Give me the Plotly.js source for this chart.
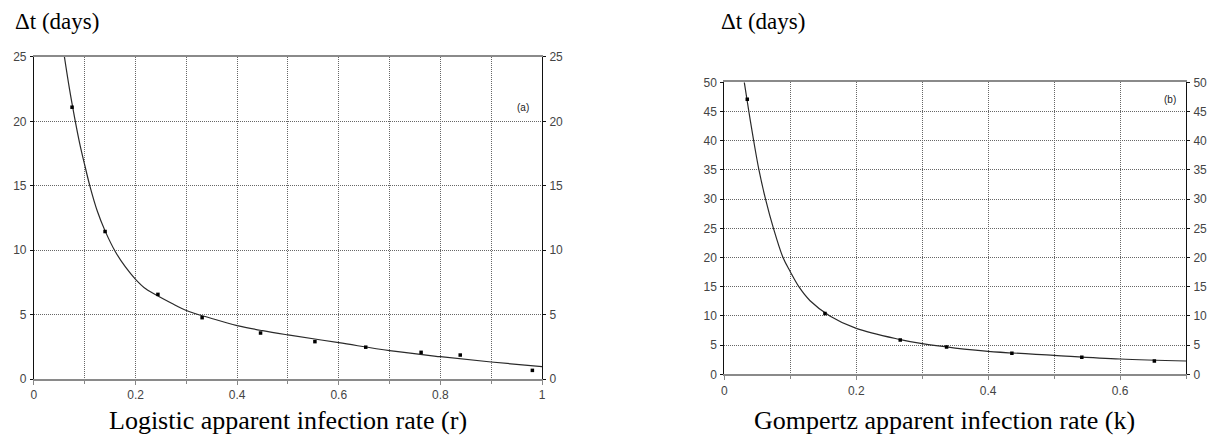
<!DOCTYPE html>
<html>
<head>
<meta charset="utf-8">
<script src="https://cdn.plot.ly/plotly-3.0.1.min.js"></script>
<style>
html,body{margin:0;padding:0;background:#fff;}
#chart{width:1208px;height:438px;}
</style>
</head>
<body>
<div id="chart"></div>
<script>
// Panel (a): logistic apparent infection rate r vs delta t
const logisticObsR  = [0.075, 0.140, 0.244, 0.331, 0.446, 0.553, 0.653, 0.762, 0.839, 0.981];
const logisticObsDt = [21.1, 11.45, 6.57, 4.76, 3.57, 2.90, 2.47, 2.07, 1.86, 0.67];
const logisticFitR  = [0.060, 0.070, 0.080, 0.090, 0.100, 0.110, 0.125, 0.140, 0.160, 0.180, 0.200, 0.220, 0.245, 0.270, 0.300, 0.350, 0.400, 0.450, 0.500, 0.600, 0.700, 0.800, 0.900, 1.000];
const logisticFitDt = [25.0, 22.5, 20.3, 18.3, 16.6, 15.0, 13.0, 11.5, 9.9, 8.7, 7.74, 7.0, 6.42, 5.9, 5.32, 4.7, 4.15, 3.75, 3.42, 2.82, 2.2, 1.73, 1.32, 0.96];

// Panel (b): Gompertz apparent infection rate k vs delta t
const gompertzObsK  = [0.0348, 0.1526, 0.2667, 0.337, 0.436, 0.542, 0.652];
const gompertzObsDt = [47.1, 10.4, 5.87, 4.67, 3.60, 2.91, 2.28];
const gompertzFitK  = [0.0303, 0.0372, 0.0445, 0.0525, 0.0625, 0.0745, 0.089, 0.100, 0.113, 0.130, 0.160, 0.200, 0.267, 0.300, 0.350, 0.400, 0.500, 0.600, 0.700];
const gompertzFitDt = [50.0, 45.0, 40.0, 35.0, 30.0, 25.0, 20.0, 17.57, 15.0, 12.6, 10.0, 7.87, 5.95, 5.24, 4.5, 3.94, 3.25, 2.62, 2.28];

const leftTicksY = [0, 5, 10, 15, 20, 25];
const rightTicksY = [0, 5, 10, 15, 20, 25, 30, 35, 40, 45, 50];

const lineColor = '#2a2a2a';
const gridColor = '#666';
const gridDash = '1px,1px';
const tickFont = {family: 'Liberation Sans, Arial, sans-serif', size: 12, color: '#444'};
const serif = 'Liberation Serif, Times New Roman, serif';

const traces = [
  {x: logisticFitR, y: logisticFitDt, xaxis: 'x', yaxis: 'y', mode: 'lines',
   line: {color: lineColor, width: 1.2, shape: 'spline', smoothing: 1}, hoverinfo: 'skip'},
  {x: logisticObsR, y: logisticObsDt, xaxis: 'x', yaxis: 'y', mode: 'markers',
   marker: {symbol: 'square', size: 3.5, color: '#000'}},
  {x: logisticObsR, y: logisticObsDt, xaxis: 'x', yaxis: 'y3', mode: 'markers',
   marker: {size: 1, opacity: 0}, hoverinfo: 'skip'},
  {x: gompertzFitK, y: gompertzFitDt, xaxis: 'x2', yaxis: 'y2', mode: 'lines',
   line: {color: lineColor, width: 1.2, shape: 'spline', smoothing: 1}, hoverinfo: 'skip'},
  {x: gompertzObsK, y: gompertzObsDt, xaxis: 'x2', yaxis: 'y2', mode: 'markers',
   marker: {symbol: 'square', size: 3.5, color: '#000'}},
  {x: gompertzObsK, y: gompertzObsDt, xaxis: 'x2', yaxis: 'y4', mode: 'markers',
   marker: {size: 1, opacity: 0}, hoverinfo: 'skip'}
];

function xAxis(domain, range, anchor) {
  return {
    domain: domain, range: range, anchor: anchor, dtick: 0.2, tick0: 0,
    showgrid: true, gridcolor: gridColor, griddash: gridDash, gridwidth: 1,
    minor: {dtick: 0.1, tick0: 0, showgrid: true, gridcolor: gridColor, griddash: gridDash, gridwidth: 1,
            ticks: 'outside', ticklen: 3, tickcolor: '#888'},
    showline: true, linecolor: '#8a8a8a', linewidth: 2, mirror: true,
    ticks: 'outside', ticklen: 4, tickcolor: '#888',
    zeroline: false, tickfont: tickFont, fixedrange: true
  };
}
function yAxis(domain, range, anchor, ticks, side, overlaying, grid) {
  const a = {
    domain: domain, range: range, anchor: anchor, tickvals: ticks, ticktext: ticks.map(String),
    showgrid: grid, gridcolor: gridColor, griddash: gridDash, gridwidth: 1,
    showline: true, linecolor: '#111', linewidth: 1,
    ticks: 'outside', ticklen: 3, tickcolor: '#111',
    zeroline: false, tickfont: tickFont, side: side, fixedrange: true, ticklabelstandoff: 1
  };
  if (overlaying) a.overlaying = overlaying;
  return a;
}

const layout = {
  width: 1208, height: 438,
  margin: {l: 0, r: 0, t: 0, b: 0},
  paper_bgcolor: '#fff', plot_bgcolor: '#fff',
  showlegend: false,
  font: {family: serif, color: '#000'},
  xaxis: xAxis([0.0281, 0.4487], [0, 1], 'y'),
  yaxis: yAxis([0.1347, 0.8699], [0, 25], 'x', leftTicksY, 'left', null, true),
  yaxis3: yAxis([0.1347, 0.8699], [0, 25], 'x', leftTicksY, 'right', 'y', false),
  xaxis2: xAxis([0.5996, 0.9818], [0, 0.7], 'y2'),
  yaxis2: yAxis([0.1454, 0.8121], [0, 50], 'x2', rightTicksY, 'left', null, true),
  yaxis4: yAxis([0.1454, 0.8121], [0, 50], 'x2', rightTicksY, 'right', 'y2', false),
  annotations: [
    {text: 'Δt (days)', xref: 'paper', yref: 'paper', x: 0.0108, y: 0.95, xanchor: 'left', yanchor: 'middle',
     showarrow: false, font: {family: serif, size: 23, color: '#000'}},
    {text: 'Δt (days)', xref: 'paper', yref: 'paper', x: 0.595, y: 0.95, xanchor: 'left', yanchor: 'middle',
     showarrow: false, font: {family: serif, size: 23, color: '#000'}},
    {text: 'Logistic apparent infection rate (r)', xref: 'paper', yref: 'paper', x: 0.238, y: 0.041,
     xanchor: 'center', yanchor: 'middle', showarrow: false,
     font: {family: serif, size: 26, color: '#000'}},
    {text: 'Gompertz apparent infection rate (k)', xref: 'paper', yref: 'paper', x: 0.782, y: 0.041,
     xanchor: 'center', yanchor: 'middle', showarrow: false,
     font: {family: serif, size: 26, color: '#000'}},
    {text: '(a)', xref: 'x', yref: 'y', x: 0.963, y: 21.1, showarrow: false,
     font: {family: 'Liberation Sans, Arial, sans-serif', size: 10, color: '#222'}},
    {text: '(b)', xref: 'x2', yref: 'y2', x: 0.675, y: 47.1, showarrow: false,
     font: {family: 'Liberation Sans, Arial, sans-serif', size: 10, color: '#222'}}
  ]
};

Plotly.newPlot('chart', traces, layout, {staticPlot: true, displayModeBar: false});
</script>
</body>
</html>
